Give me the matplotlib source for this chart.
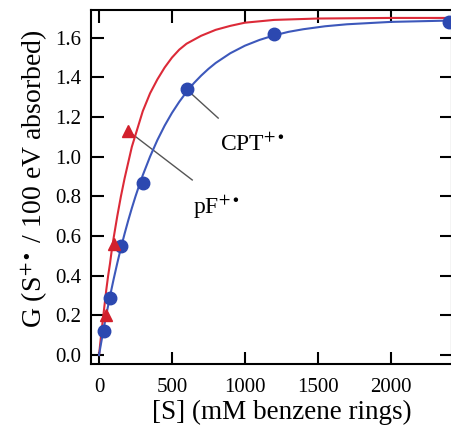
import matplotlib
matplotlib.use("Agg")
import matplotlib.pyplot as plt

# ---- data ----
cpt_S = [37.5, 75, 150, 300, 600, 1200, 2400]
cpt_G = [0.12, 0.29, 0.55, 0.87, 1.34, 1.62, 1.68]

pf_S = [50, 100, 200]
pf_G = [0.20, 0.56, 1.13]

# fitted curves
cpt_fit_S = [0, 12.5, 25, 37.5, 50, 75, 100, 125, 150, 175, 200, 225, 250, 275,
             300, 350, 400, 450, 500, 550, 600, 650, 700, 750, 800, 900, 1000,
             1100, 1200, 1300, 1400, 1550, 1700, 2000, 2420]
cpt_fit_G = [0.0, 0.053, 0.105, 0.155, 0.203, 0.296, 0.382, 0.463, 0.540,
             0.611, 0.678, 0.741, 0.800, 0.855, 0.907, 1.001, 1.084, 1.157,
             1.221, 1.277, 1.327, 1.371, 1.409, 1.443, 1.473, 1.522, 1.560,
             1.589, 1.612, 1.630, 1.643, 1.658, 1.668, 1.680, 1.687]

pf_fit_S = [0, 12.5, 25, 37.5, 50, 62.5, 75, 87.5, 100, 125, 150, 175, 200,
            225, 250, 275, 300, 350, 400, 450, 500, 550, 600, 700, 800, 900,
            1000, 1200, 1500, 2000, 2420]
pf_fit_G = [0.0, 0.088, 0.17, 0.25, 0.33, 0.40, 0.46, 0.53, 0.59, 0.70, 0.80,
            0.89, 0.97, 1.05, 1.11, 1.17, 1.23, 1.32, 1.39, 1.45, 1.50, 1.54,
            1.57, 1.61, 1.64, 1.66, 1.676, 1.69, 1.697, 1.70, 1.70]

xticks = [0, 500, 1000, 1500, 2000]
yticks = [0.0, 0.2, 0.4, 0.6, 0.8, 1.0, 1.2, 1.4, 1.6]

plt.rcParams['font.family'] = ['Liberation Serif', 'DejaVu Serif']
plt.rcParams['mathtext.fontset'] = 'stix'

W, H = 451, 432
fig = plt.figure(figsize=(W / 100, H / 100), dpi=100)
ax = fig.add_axes([91 / W, 68 / H, 361 / W, 354 / H])

red = '#d2202c'
blue = '#2c48b0'

ax.plot(pf_fit_S, pf_fit_G, color='#dc2a38', lw=1.5, zorder=2)
ax.plot(cpt_fit_S, cpt_fit_G, color='#3d58bb', lw=1.5, zorder=2)
ax.plot(cpt_S, cpt_G, 'o', color=blue, ms=9, zorder=3, clip_on=False)
ax.plot(pf_S, pf_G, '^', color=red, ms=9, zorder=3)

# leader lines and labels
ax.plot([600, 817], [1.34, 1.195], color='#555555', lw=1.0, zorder=1)
ax.plot([200, 639], [1.13, 0.883], color='#555555', lw=1.0, zorder=1)
ax.text(830, 1.03, r'CPT$^{+\bullet}$', fontsize=17, ha='left', va='baseline')
ax.text(645, 0.71, r'pF$^{+\bullet}$', fontsize=17, ha='left', va='baseline')

ax.set_xlim(-55, 2420)
ax.set_ylim(-0.045, 1.74)
ax.set_xticks(xticks)
ax.set_xticklabels([str(t) for t in xticks])
ax.set_yticks(yticks)
ax.set_yticklabels([f'{t:.1f}' for t in yticks])

ax.tick_params(direction='in', length=9, width=1.5, top=True, right=True,
               labelsize=15, pad=7)
ax.tick_params(axis='x', pad=10)
for s in ax.spines.values():
    s.set_linewidth(1.5)

ax.set_xlabel('[S] (mM benzene rings)', fontsize=19.5, labelpad=2)
ax.set_ylabel(r'G (S$^{+\bullet}$ / 100 eV absorbed)', fontsize=20, labelpad=4)
ax.xaxis.label.set_x(0.529)
ax.yaxis.label.set_y(0.523)

fig.savefig('out.png', dpi=100)
